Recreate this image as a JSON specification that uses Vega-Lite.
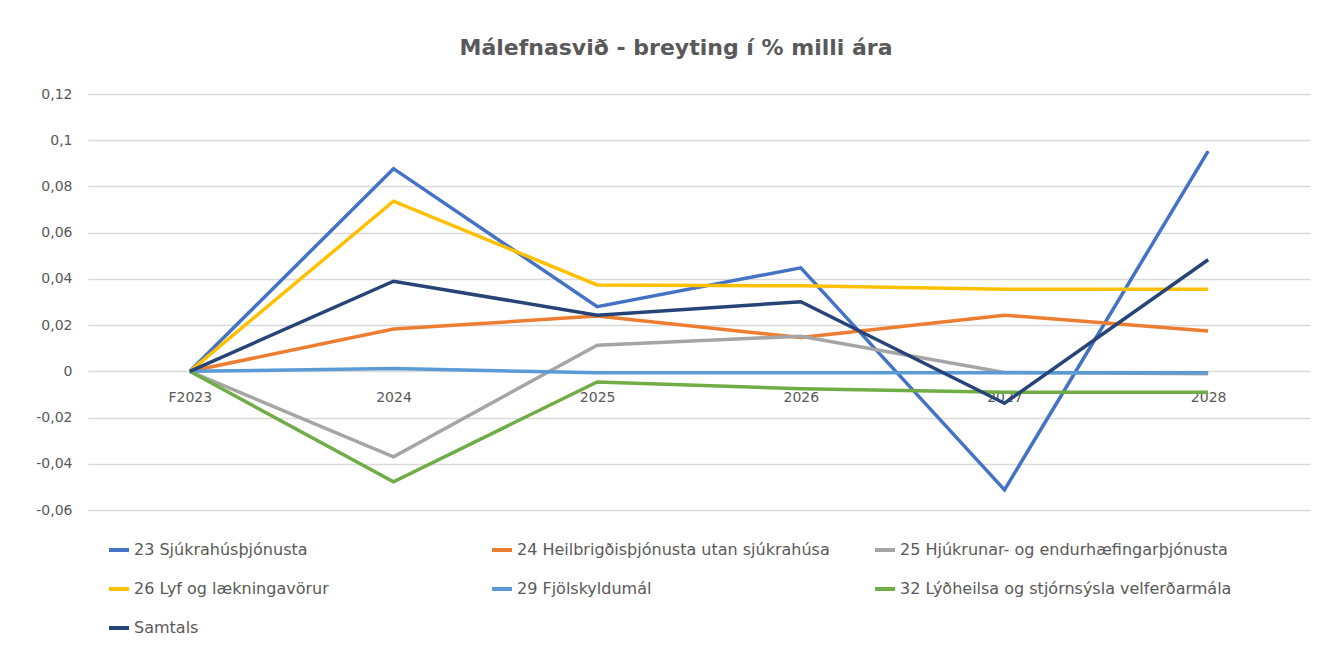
{
  "$schema": "https://vega.github.io/schema/vega-lite/v6.json",
  "width": 1222,
  "height": 416,
  "autosize": {"type": "none"},
  "padding": {"left": 88, "top": 94, "right": 12, "bottom": 138},
  "background": "white",
  "title": {"text": "Málefnasvið - breyting í % milli ára", "fontSize": 22, "font": "DejaVu Sans", "fontWeight": "bold", "color": "#595959", "anchor": "middle", "offset": 27, "dx": -23},
  "config": {
    "locale": {"number": {"decimal": ",", "thousands": ".", "grouping": [3], "currency": ["", " kr."], "minus": "-"}},
    "view": {"stroke": null},
    "font": "DejaVu Sans"
  },
  "data": {"values": [
    {"ar": "F2023", "svid": "23 Sjúkrahúsþjónusta", "gildi": 0},
    {"ar": "2024", "svid": "23 Sjúkrahúsþjónusta", "gildi": 0.0877},
    {"ar": "2025", "svid": "23 Sjúkrahúsþjónusta", "gildi": 0.028},
    {"ar": "2026", "svid": "23 Sjúkrahúsþjónusta", "gildi": 0.0448},
    {"ar": "2027", "svid": "23 Sjúkrahúsþjónusta", "gildi": -0.0513},
    {"ar": "2028", "svid": "23 Sjúkrahúsþjónusta", "gildi": 0.0953},
    {"ar": "F2023", "svid": "24 Heilbrigðisþjónusta utan sjúkrahúsa", "gildi": 0},
    {"ar": "2024", "svid": "24 Heilbrigðisþjónusta utan sjúkrahúsa", "gildi": 0.0183},
    {"ar": "2025", "svid": "24 Heilbrigðisþjónusta utan sjúkrahúsa", "gildi": 0.0239},
    {"ar": "2026", "svid": "24 Heilbrigðisþjónusta utan sjúkrahúsa", "gildi": 0.0146},
    {"ar": "2027", "svid": "24 Heilbrigðisþjónusta utan sjúkrahúsa", "gildi": 0.0243},
    {"ar": "2028", "svid": "24 Heilbrigðisþjónusta utan sjúkrahúsa", "gildi": 0.0175},
    {"ar": "F2023", "svid": "25 Hjúkrunar- og endurhæfingarþjónusta", "gildi": 0},
    {"ar": "2024", "svid": "25 Hjúkrunar- og endurhæfingarþjónusta", "gildi": -0.037},
    {"ar": "2025", "svid": "25 Hjúkrunar- og endurhæfingarþjónusta", "gildi": 0.0113},
    {"ar": "2026", "svid": "25 Hjúkrunar- og endurhæfingarþjónusta", "gildi": 0.0152},
    {"ar": "2027", "svid": "25 Hjúkrunar- og endurhæfingarþjónusta", "gildi": -0.0005},
    {"ar": "2028", "svid": "25 Hjúkrunar- og endurhæfingarþjónusta", "gildi": -0.001},
    {"ar": "F2023", "svid": "26 Lyf og lækningavörur", "gildi": 0},
    {"ar": "2024", "svid": "26 Lyf og lækningavörur", "gildi": 0.0736},
    {"ar": "2025", "svid": "26 Lyf og lækningavörur", "gildi": 0.0374},
    {"ar": "2026", "svid": "26 Lyf og lækningavörur", "gildi": 0.037},
    {"ar": "2027", "svid": "26 Lyf og lækningavörur", "gildi": 0.0355},
    {"ar": "2028", "svid": "26 Lyf og lækningavörur", "gildi": 0.0355},
    {"ar": "F2023", "svid": "29 Fjölskyldumál", "gildi": 0},
    {"ar": "2024", "svid": "29 Fjölskyldumál", "gildi": 0.0012},
    {"ar": "2025", "svid": "29 Fjölskyldumál", "gildi": -0.0006},
    {"ar": "2026", "svid": "29 Fjölskyldumál", "gildi": -0.0006},
    {"ar": "2027", "svid": "29 Fjölskyldumál", "gildi": -0.0006},
    {"ar": "2028", "svid": "29 Fjölskyldumál", "gildi": -0.0006},
    {"ar": "F2023", "svid": "32 Lýðheilsa og stjórnsýsla velferðarmála", "gildi": 0},
    {"ar": "2024", "svid": "32 Lýðheilsa og stjórnsýsla velferðarmála", "gildi": -0.0478},
    {"ar": "2025", "svid": "32 Lýðheilsa og stjórnsýsla velferðarmála", "gildi": -0.0046},
    {"ar": "2026", "svid": "32 Lýðheilsa og stjórnsýsla velferðarmála", "gildi": -0.0075},
    {"ar": "2027", "svid": "32 Lýðheilsa og stjórnsýsla velferðarmála", "gildi": -0.009},
    {"ar": "2028", "svid": "32 Lýðheilsa og stjórnsýsla velferðarmála", "gildi": -0.009},
    {"ar": "F2023", "svid": "Samtals", "gildi": 0},
    {"ar": "2024", "svid": "Samtals", "gildi": 0.039},
    {"ar": "2025", "svid": "Samtals", "gildi": 0.0243},
    {"ar": "2026", "svid": "Samtals", "gildi": 0.0301},
    {"ar": "2027", "svid": "Samtals", "gildi": -0.0138},
    {"ar": "2028", "svid": "Samtals", "gildi": 0.0483}
  ]},
  "mark": {"type": "line", "strokeWidth": 3.5},
  "encoding": {
    "x": {
      "field": "ar", "type": "ordinal",
      "sort": ["F2023", "2024", "2025", "2026", "2027", "2028"],
      "scale": {"type": "point", "padding": 0.5},
      "axis": {"title": null, "domain": false, "ticks": false, "grid": false, "labelAngle": 0, "offset": -139, "labelPadding": 19, "labelFontSize": 14, "labelColor": "#595959"}
    },
    "y": {
      "field": "gildi", "type": "quantitative",
      "scale": {"domain": [-0.06, 0.12], "nice": false, "zero": false},
      "axis": {"title": null, "values": [-0.06, -0.04, -0.02, 0, 0.02, 0.04, 0.06, 0.08, 0.1, 0.12], "format": ".2~f", "domain": false, "ticks": false, "gridColor": "#d9d9d9", "gridWidth": 1.5, "labelPadding": 16, "labelFontSize": 14, "labelColor": "#595959"}
    },
    "color": {
      "field": "svid", "type": "nominal",
      "scale": {
        "domain": ["23 Sjúkrahúsþjónusta", "24 Heilbrigðisþjónusta utan sjúkrahúsa", "25 Hjúkrunar- og endurhæfingarþjónusta", "26 Lyf og lækningavörur", "29 Fjölskyldumál", "32 Lýðheilsa og stjórnsýsla velferðarmála", "Samtals"],
        "range": ["#4472C4", "#ED7D31", "#A5A5A5", "#FFC000", "#5B9BD5", "#70AD47", "#264478"]
      },
      "legend": {"title": null, "orient": "none", "legendX": 19, "legendY": 444, "direction": "horizontal", "columns": 3, "gridAlign": "all", "columnPadding": 18, "rowPadding": 19, "symbolType": "stroke", "symbolStrokeWidth": 4, "symbolSize": 400, "labelFontSize": 16, "labelColor": "#595959", "labelLimit": 400, "labelOffset": 3}
    }
  }
}
